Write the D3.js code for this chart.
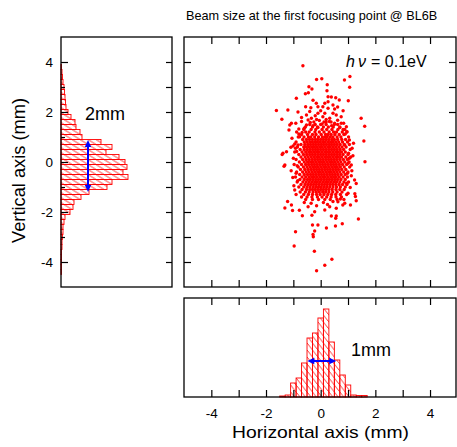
<!DOCTYPE html>
<html>
<head>
<meta charset="utf-8">
<script src="https://cdn.jsdelivr.net/npm/d3@7"></script>
<style>
body { margin: 0; background: #fff; }
text { font-family: Arial, "Liberation Sans", sans-serif; }
</style>
</head>
<body>
<div id="chart"></div>
<script>
// ---- data ----
var titleText = "Beam size at the first focusing point @ BL6B";
var xLabel = "Horizontal axis (mm)";
var yLabel = "Vertical axis (mm)";
var majorTicks = [-4, -2, 0, 2, 4];
var allTicks = [-4, -3, -2, -1, 0, 1, 2, 3, 4];
var oddTicks = [-3, -1, 1, 3];
var binWidth = 0.2;

// horizontal profile (bottom histogram)
var hBins = [-1.4, -1.2, -1.0, -0.8, -0.6, -0.4, -0.2, 0, 0.2, 0.4, 0.6, 0.8, 1.0, 1.2, 1.4, 1.6];
var hCounts = [1, 2, 14, 19, 34, 59, 64, 79, 88, 55, 37, 22, 12, 2, 1.5, 1.5];

// vertical profile (left histogram)
var vBins = [3.8, 3.6, 3.4, 3.2, 3.0, 2.8, 2.6, 2.4, 2.2, 2.0, 1.8, 1.6, 1.4, 1.2, 1.0, 0.8, 0.6, 0.4, 0.2, 0,
             -0.2, -0.4, -0.6, -0.8, -1.0, -1.2, -1.4, -1.6, -1.8, -2.0, -2.2, -2.4, -2.6, -2.8, -3.0, -3.2,
             -3.4, -3.6, -3.8, -4.0, -4.2, -4.4];
var vCounts = [0.5, 1, 1.5, 2, 3, 3.5, 4, 4.5, 5, 7, 10, 14, 15, 19, 21, 40, 51, 45, 58, 64,
               66, 62, 67, 51, 46, 28, 20, 13, 12, 9, 4, 3, 2, 2, 1.5, 1,
               1, 0.5, 0.5, 0.5, 0.5, 0.5];

// FWHM arrows: [from, to] and the count level they sit at
var fwhmH = [-0.49, 0.57], fwhmHLevel = 36;
var fwhmV = [-1.2, 0.88], fwhmVLevel = 27;

// scattered points away from the dense core  [x, y] in mm
var outliers = [
  [-0.65,3.85],[1.07,3.42],[0.87,3.28],[-0.15,3.3],[0.04,3.33],[0.24,3.09],[-0.43,3.01],[1.06,2.99],
  [-0.32,2.92],[-0.56,2.73],[-0.45,2.77],[-0.89,2.55],[-0.28,2.47],[-0.16,2.35],[-0.1,2.21],[0.23,2.85],
  [0.27,2.61],[0.39,2.6],[0.55,2.57],[0.68,2.48],[1.01,2.45],[0.15,2.35],[0.27,2.41],[0.08,2.21],
  [0.45,2.28],[-0.55,2.21],[-0.36,2.17],[0.51,2.12],[0.27,2.15],[-1.62,2.06],[-1.2,2.08],[-0.83,2.0],
  [-1.42,1.71],[1.48,1.75],[1.61,1.43],[-1.07,1.55],[-0.91,1.55],[-1.13,1.48],[-1.16,1.28],[-0.52,1.88],
  [-0.46,1.68],[-0.52,1.48],[-0.34,1.75],[-0.1,1.95],[0.08,1.81],[0.15,1.95],[0.33,1.75],[0.57,1.88],
  [0.75,1.81],[0.75,1.55],[0.51,1.55],[0.84,1.55],[0.94,1.41],[0.96,1.21],[-0.77,1.01],[1.58,0.84],
  [-1.09,0.59],[-1.01,0.64],[-0.83,0.68],[-1.38,0.35],[-1.25,0.41],[-1.41,0.3],[-1.31,-0.12],[-1.34,-0.17],
  [1.62,0.01],[1.12,-0.12],[1.24,-0.72],[1.3,-0.86],[1.25,-1.27],[1.27,-1.38],[1.3,-1.55],[-0.95,-1.12],
  [-1.21,-1.58],[-1.07,-1.72],[-1.31,-1.84],[-1.03,-1.94],[-0.78,-1.93],[-0.46,-1.79],[-0.22,-1.99],[0.15,-1.92],
  [0.33,-1.79],[0.57,-1.85],[0.81,-1.72],[1.09,-1.72],[0.63,-1.59],[0.88,-1.65],[-0.67,-2.15],[-0.32,-2.13],
  [0.39,-2.16],[0.57,-2.16],[0.55,-2.25],[1.38,-2.28],[0.79,-2.47],[0.54,-2.56],[0.21,-2.64],[-0.3,-2.52],
  [-0.1,-2.52],[-0.22,-2.76],[-0.28,-2.9],[-0.27,-2.99],[-0.92,-2.79],[-0.97,-3.36],[-0.23,-3.57],[0.41,-3.89],
  [0.15,-4.13],[-0.15,-4.35]
];

// looser points around the edge of the core  [x, y] in mm
var edgePoints = [
  [-0.7,1.62],[-0.6,1.35],[-0.38,1.58],[-0.28,1.45],[-0.05,1.66],[0.05,1.52],[0.32,1.62],[0.4,1.45],
  [0.62,1.67],[0.7,1.38],[0.82,1.3],[-0.8,1.32],[-0.68,1.18],[0.9,1.12],[1.05,0.88],[-0.2,1.85],
  [0.45,1.95],[0.0,2.05],[-0.4,2.02],[0.62,2.2],[0.82,2.05],[-0.7,1.78],[0.2,1.6],[-0.1,1.38],
  [-1.05,0.95],[-1.0,0.15],[-1.08,-0.35],[-1.02,-0.62],[-0.98,-0.95],[1.15,0.55],[1.18,0.25],[1.14,-0.35],
  [1.12,-0.55],[1.08,-1.02],[1.0,-1.25],[-0.9,-1.3],[-0.88,0.42],[-0.95,0.72],[1.2,0.75],[-0.6,-1.62],
  [-0.35,-1.65],[0.1,-1.62],[0.45,-1.58],[-0.15,-1.75],[0.25,-1.7],[0.72,-1.48],[-0.92,0.55],[-0.86,-0.15],
  [-0.9,-0.45],[-0.84,-0.75],[1.02,0.35],[1.0,-0.05],[0.98,-0.45],[0.95,-0.85],[-0.8,1.12],[0.88,0.68],
  [1.05,0.15]
];

// dense core, row by row: [y, [x ...]] in mm
var coreRows = [
  [1.7, [-0.15, 0.2]],
  [1.6, [-0.25, 0.12, 0.38]],
  [1.5, [-0.4, -0.2, 0.0, 0.2, 0.5, 0.62]],
  [1.4, [-0.56, -0.3, -0.12, 0.1, 0.28, 0.46, 0.7]],
  [1.3, [-0.62, -0.35, -0.18, 0.05, 0.22, 0.41, 0.63, 0.88]],
  [1.2, [-0.88, -0.55, -0.42, -0.21, -0.05, 0.12, 0.31, 0.47, 0.58, 0.79, 0.96]],
  [1.1, [-0.7, -0.48, -0.3, -0.17, 0.02, 0.18, 0.27, 0.38, 0.52, 0.68, 0.85]],
  [1.0, [-0.82, -0.61, -0.45, -0.36, -0.22, -0.08, 0.06, 0.15, 0.24, 0.35, 0.45, 0.6, 0.74, 1.02]],
  [0.9, [-0.66, -0.52, -0.41, -0.3, -0.19, -0.1, 0.0, 0.1, 0.2, 0.3, 0.41, 0.5, 0.62, 0.77, 0.91]],
  [0.8, [-0.9, -0.6, -0.5, -0.4, -0.31, -0.22, -0.12, -0.03, 0.07, 0.16, 0.26, 0.36, 0.45, 0.55, 0.66, 0.8, 0.98]],
  [0.7, [-0.72, -0.58, -0.47, -0.37, -0.27, -0.18, -0.08, 0.02, 0.11, 0.21, 0.31, 0.4, 0.5, 0.6, 0.71, 0.86, 1.05]],
  [0.6, [-0.85, -0.62, -0.52, -0.42, -0.33, -0.23, -0.14, -0.04, 0.06, 0.16, 0.26, 0.35, 0.45, 0.55, 0.66, 0.78, 0.93]],
  [0.5, [-0.75, -0.6, -0.49, -0.39, -0.29, -0.19, -0.1, 0.0, 0.1, 0.2, 0.3, 0.4, 0.5, 0.6, 0.71, 0.84, 1.08]],
  [0.4, [-0.95, -0.68, -0.55, -0.44, -0.34, -0.24, -0.15, -0.05, 0.05, 0.15, 0.25, 0.35, 0.45, 0.55, 0.65, 0.76, 0.9]],
  [0.3, [-0.8, -0.63, -0.51, -0.4, -0.3, -0.2, -0.1, 0.0, 0.1, 0.2, 0.3, 0.4, 0.5, 0.6, 0.7, 0.82, 1.0]],
  [0.2, [-0.72, -0.57, -0.46, -0.35, -0.25, -0.15, -0.05, 0.05, 0.15, 0.25, 0.35, 0.45, 0.55, 0.65, 0.76, 0.92, 1.1]],
  [0.1, [-0.9, -0.66, -0.53, -0.42, -0.31, -0.21, -0.11, -0.01, 0.09, 0.19, 0.29, 0.39, 0.49, 0.59, 0.7, 0.83, 0.98]],
  [0.0, [-0.78, -0.6, -0.48, -0.37, -0.27, -0.17, -0.07, 0.03, 0.13, 0.23, 0.33, 0.43, 0.53, 0.63, 0.74, 0.88, 1.04]],
  [-0.1, [-0.97, -0.7, -0.55, -0.44, -0.33, -0.23, -0.13, -0.03, 0.07, 0.17, 0.27, 0.37, 0.47, 0.57, 0.68, 0.8, 0.95]],
  [-0.2, [-0.82, -0.63, -0.5, -0.39, -0.29, -0.19, -0.09, 0.01, 0.11, 0.21, 0.31, 0.41, 0.51, 0.61, 0.72, 0.86, 1.06]],
  [-0.3, [-0.74, -0.58, -0.46, -0.35, -0.25, -0.15, -0.05, 0.05, 0.15, 0.25, 0.35, 0.45, 0.55, 0.65, 0.77, 0.92]],
  [-0.4, [-0.88, -0.66, -0.53, -0.42, -0.31, -0.21, -0.11, -0.01, 0.09, 0.19, 0.29, 0.39, 0.49, 0.59, 0.7, 0.84, 1.0]],
  [-0.5, [-0.77, -0.6, -0.48, -0.37, -0.27, -0.17, -0.07, 0.03, 0.13, 0.23, 0.33, 0.43, 0.53, 0.63, 0.75, 0.9]],
  [-0.6, [-0.92, -0.68, -0.55, -0.43, -0.33, -0.23, -0.13, -0.03, 0.07, 0.17, 0.27, 0.37, 0.47, 0.57, 0.68, 0.82, 0.98]],
  [-0.7, [-0.76, -0.6, -0.48, -0.38, -0.28, -0.18, -0.08, 0.02, 0.12, 0.22, 0.32, 0.42, 0.52, 0.62, 0.74, 0.9]],
  [-0.8, [-0.86, -0.65, -0.53, -0.42, -0.32, -0.22, -0.12, -0.02, 0.08, 0.18, 0.28, 0.38, 0.48, 0.58, 0.7, 0.85, 1.02]],
  [-0.9, [-0.72, -0.57, -0.46, -0.36, -0.26, -0.16, -0.06, 0.04, 0.14, 0.24, 0.34, 0.44, 0.55, 0.67, 0.8, 0.96]],
  [-1.0, [-0.8, -0.62, -0.5, -0.39, -0.28, -0.18, -0.08, 0.02, 0.12, 0.22, 0.33, 0.45, 0.58, 0.72, 0.9]],
  [-1.1, [-0.68, -0.52, -0.4, -0.3, -0.2, -0.1, 0.0, 0.1, 0.2, 0.3, 0.42, 0.56, 0.7, 0.86]],
  [-1.2, [-0.75, -0.56, -0.42, -0.28, -0.16, -0.05, 0.07, 0.18, 0.3, 0.44, 0.6, 0.78]],
  [-1.3, [-0.62, -0.45, -0.3, -0.15, -0.02, 0.12, 0.26, 0.4, 0.55, 0.72, 0.95]],
  [-1.4, [-0.7, -0.5, -0.32, -0.12, 0.05, 0.22, 0.38, 0.56, 0.76]],
  [-1.5, [-0.55, -0.3, -0.08, 0.15, 0.35, 0.6, 0.85]]
];

var red = "#ff0000", blue = "#0000ff";

var svg = d3.select("#chart").append("svg")
    .attr("width", 457)
    .attr("height", 447);

// scales
var xMain = d3.scaleLinear().domain([-5, 4.95]).range([184, 456]);
var yMain = d3.scaleLinear().domain([-5, 5]).range([287, 37]);
var cntV = d3.scaleLinear().domain([0, 111]).range([61, 172]);
var cntH = d3.scaleLinear().domain([0, 99]).range([397, 298]);

// hatch patterns
var defs = svg.append("defs");
defs.append("pattern")
    .attr("id", "hatchV")
    .attr("patternUnits", "userSpaceOnUse")
    .attr("width", 8).attr("height", 5)
    .attr("y", yMain(binWidth / 2))
  .append("path")
    .attr("d", "M-1,-0.625L9,5.625")
    .attr("stroke", red).attr("stroke-width", 0.8);
defs.append("pattern")
    .attr("id", "hatchH")
    .attr("patternUnits", "userSpaceOnUse")
    .attr("width", xMain(binWidth) - xMain(0)).attr("height", 7)
    .attr("x", xMain(binWidth / 2))
  .append("path")
    .attr("d", "M-0.78,-1L" + (xMain(binWidth) - xMain(0) + 0.78) + ",8")
    .attr("stroke", red).attr("stroke-width", 0.8);

// left histogram
svg.append("g").selectAll("rect")
    .data(vBins.map(function (c, i) { return { c: c, v: vCounts[i] }; }))
    .join("rect")
    .attr("x", cntV(0))
    .attr("y", d => yMain(d.c + binWidth / 2))
    .attr("width", d => cntV(d.v) - cntV(0))
    .attr("height", d => yMain(d.c - binWidth / 2) - yMain(d.c + binWidth / 2))
    .attr("fill", "url(#hatchV)")
    .attr("stroke", red)
    .attr("stroke-width", 0.9);

// bottom histogram
svg.append("g").selectAll("rect")
    .data(hBins.map(function (c, i) { return { c: c, v: hCounts[i] }; }))
    .join("rect")
    .attr("x", d => xMain(d.c - binWidth / 2))
    .attr("y", d => cntH(d.v))
    .attr("width", d => xMain(d.c + binWidth / 2) - xMain(d.c - binWidth / 2))
    .attr("height", d => cntH(0) - cntH(d.v))
    .attr("fill", "url(#hatchH)")
    .attr("stroke", red)
    .attr("stroke-width", 0.9);

// scatter
var points = [];
coreRows.forEach(function (r) {
  r[1].forEach(function (x) { points.push([x, r[0]]); });
});
points = points.concat(edgePoints, outliers);

svg.append("g").selectAll("circle")
    .data(points)
    .join("circle")
    .attr("cx", d => xMain(d[0]))
    .attr("cy", d => yMain(d[1]))
    .attr("r", 1.7)
    .attr("fill", red);

// frames
function frame(x0, y0, x1, y1) {
  svg.append("rect")
      .attr("x", x0).attr("y", y0)
      .attr("width", x1 - x0).attr("height", y1 - y0)
      .attr("fill", "none")
      .attr("stroke", "#000")
      .attr("stroke-width", 1.3);
}
frame(cntV(0), yMain(5), cntV(111), yMain(-5));
frame(xMain(-5), yMain(5), xMain(4.95), yMain(-5));
frame(xMain(-5), cntH(99), xMain(4.95), cntH(0));

// axes
function addAxis(tx, ty, axis, withLabels) {
  var g = svg.append("g")
      .attr("transform", "translate(" + tx + "," + ty + ")")
      .call(axis);
  g.select(".domain").remove();
  g.selectAll(".tick line").attr("stroke", "#000").attr("stroke-width", 1.2);
  if (withLabels) {
    g.selectAll(".tick text")
        .attr("fill", "#000")
        .attr("font-size", 13.5)
        .attr("font-family", "Arial, 'Liberation Sans', sans-serif");
  } else {
    g.selectAll(".tick text").remove();
  }
  return g;
}
var fmt = d => String(d);

// left panel
addAxis(cntV(0), 0, d3.axisLeft(yMain).tickValues(majorTicks).tickSize(-7).tickPadding(8).tickFormat(fmt), true);
addAxis(cntV(0), 0, d3.axisLeft(yMain).tickValues(oddTicks).tickSize(-4));
addAxis(cntV(111), 0, d3.axisRight(yMain).tickValues(allTicks).tickSize(-6));

// main panel
addAxis(xMain(-5), 0, d3.axisLeft(yMain).tickValues(allTicks).tickSize(-7));
addAxis(xMain(4.95), 0, d3.axisRight(yMain).tickValues(allTicks).tickSize(-7));
addAxis(0, yMain(5), d3.axisTop(xMain).tickValues(allTicks).tickSize(-7));
addAxis(0, yMain(-5), d3.axisBottom(xMain).tickValues(allTicks).tickSize(-7));

// bottom panel
addAxis(0, cntH(99), d3.axisTop(xMain).tickValues(allTicks).tickSize(-7));
addAxis(0, cntH(0), d3.axisBottom(xMain).tickValues(oddTicks).tickSize(-7));
addAxis(0, cntH(0), d3.axisBottom(xMain).tickValues(majorTicks).tickSize(-7).tickPadding(11).tickFormat(fmt), true);

// FWHM arrows
function arrow(x0, y0, x1, y1) {
  var len = Math.hypot(x1 - x0, y1 - y0);
  var ux = (x1 - x0) / len, uy = (y1 - y0) / len;
  var head = 7, half = 3.2;
  svg.append("line")
      .attr("x1", x0 + ux * head * 0.8).attr("y1", y0 + uy * head * 0.8)
      .attr("x2", x1 - ux * head * 0.8).attr("y2", y1 - uy * head * 0.8)
      .attr("stroke", blue).attr("stroke-width", 2);
  [[x0, y0, -1], [x1, y1, 1]].forEach(function (p) {
    var tx = p[0], ty = p[1], s = p[2];
    var bx = tx - s * ux * head, by = ty - s * uy * head;
    svg.append("path")
        .attr("d", "M" + tx + "," + ty +
                   "L" + (bx - uy * half) + "," + (by + ux * half) +
                   "L" + (bx + uy * half) + "," + (by - ux * half) + "Z")
        .attr("fill", blue);
  });
}
arrow(cntV(fwhmVLevel), yMain(fwhmV[1]), cntV(fwhmVLevel), yMain(fwhmV[0]));
arrow(xMain(fwhmH[0]), cntH(fwhmHLevel), xMain(fwhmH[1]), cntH(fwhmHLevel));

// texts
svg.append("text")
    .attr("x", 186).attr("y", 20)
    .attr("font-size", 12.7)
    .text(titleText);

svg.append("text")
    .attr("transform", "translate(25,170.5) rotate(-90)")
    .attr("text-anchor", "middle")
    .attr("font-size", 18)
    .attr("textLength", 145).attr("lengthAdjust", "spacingAndGlyphs")
    .text(yLabel);

svg.append("text")
    .attr("x", 320.5).attr("y", 437.5)
    .attr("text-anchor", "middle")
    .attr("font-size", 17)
    .attr("textLength", 177).attr("lengthAdjust", "spacingAndGlyphs")
    .text(xLabel);

svg.append("text")
    .attr("x", 85).attr("y", 119.5)
    .attr("font-size", 18)
    .text("2mm");

svg.append("text")
    .attr("x", 351).attr("y", 355.5)
    .attr("font-size", 18)
    .text("1mm");

var hv = svg.append("text")
    .attr("y", 67)
    .attr("font-size", 16);
hv.append("tspan").attr("x", 346).attr("font-style", "italic").text("h");
hv.append("tspan").attr("x", 358).attr("font-style", "italic").text("\u03bd");
hv.append("tspan").attr("x", 371).text("= 0.1eV");
</script>
</body>
</html>
